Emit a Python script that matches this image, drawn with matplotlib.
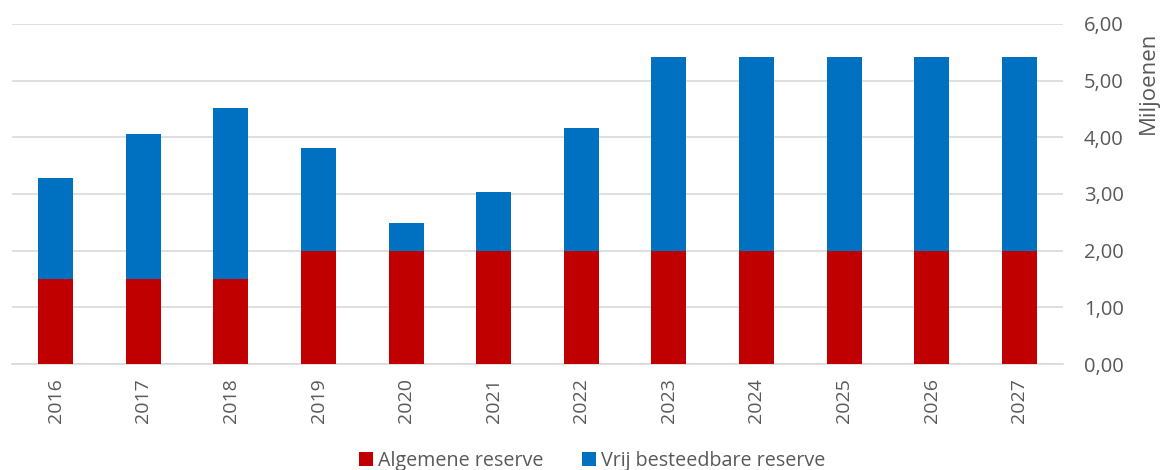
import matplotlib
matplotlib.use("Agg")
import matplotlib.pyplot as plt
import numpy as np

years = ["2016", "2017", "2018", "2019", "2020", "2021", "2022", "2023", "2024", "2025", "2026", "2027"]
algemene = [1.50, 1.50, 1.50, 2.00, 2.00, 2.00, 2.00, 2.00, 2.00, 2.00, 2.00, 2.00]
totaal = [3.28, 4.06, 4.51, 3.81, 2.49, 3.03, 4.17, 5.41, 5.41, 5.41, 5.41, 5.41]
vrij = [t - a for t, a in zip(totaal, algemene)]
yticks = [0, 1, 2, 3, 4, 5, 6]
ytick_labels = ["0,00", "1,00", "2,00", "3,00", "4,00", "5,00", "6,00"]

plt.rcParams['font.family'] = ['Open Sans', 'DejaVu Sans']
txt = '#595959'

fig = plt.figure(figsize=(11.61, 4.70), dpi=100)
ax = fig.add_axes([0.0103, 0.2255, 0.9053, 0.7235])

x = np.arange(len(years))
ax.bar(x, algemene, width=0.4, color='#C00000', label='Algemene reserve', zorder=3)
ax.bar(x, vrij, width=0.4, bottom=algemene, color='#0070C0', label='Vrij besteedbare reserve', zorder=3)

ax.set_xlim(-0.5, len(years) - 0.5)
ax.set_ylim(0, 6)
ax.set_yticks(yticks)
ax.set_yticklabels(ytick_labels)
ax.yaxis.tick_right()
ax.set_xticks(x)
ax.set_xticklabels(years, rotation=90)
ax.tick_params(axis='both', length=0, colors=txt)
ax.tick_params(axis='x', labelsize=14, pad=10)
ax.tick_params(axis='y', labelsize=14.5, pad=15)
ax.grid(axis='y', color='#D9D9D9', linewidth=1.2, zorder=0)
for s in ['top', 'left', 'right']:
    ax.spines[s].set_visible(False)
ax.spines['bottom'].set_color('#D9D9D9')
ax.spines['bottom'].set_linewidth(1.2)

fig.text(1148 / 1161, 1 - 83 / 470, 'Miljoenen', rotation=90, ha='center', va='center',
         fontsize=16, color=txt)

fig.legend(loc='center', bbox_to_anchor=(0.51, 1 - 461 / 470), ncol=2, frameon=False,
           fontsize=14.2, handlelength=0.7, handleheight=0.7, handletextpad=0.25,
           columnspacing=1.95, labelcolor=txt)

fig.savefig('out.png', dpi=100)
